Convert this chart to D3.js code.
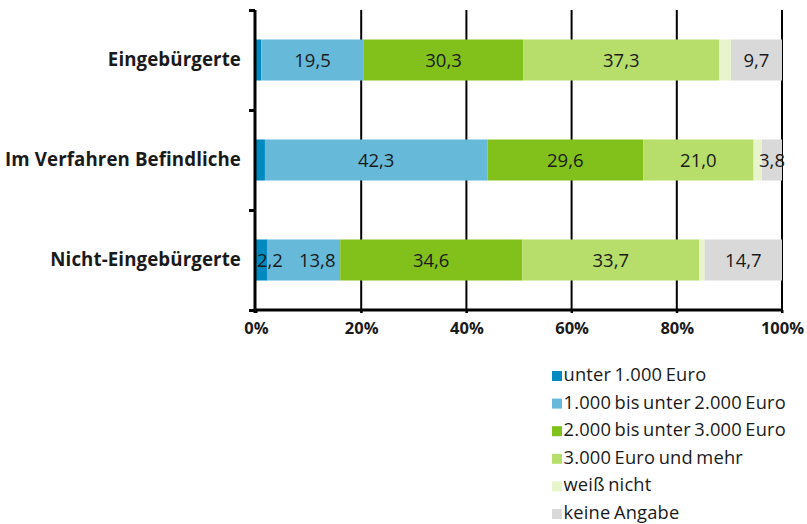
<!DOCTYPE html>
<html><head><meta charset="utf-8">
<script src="https://cdn.jsdelivr.net/npm/d3@7"></script>
<style>
html,body{margin:0;padding:0;background:#fff;}
svg{display:block;}
text{font-family:"Open Sans","Noto Sans",sans-serif;fill:#1a1a1a;}
</style></head>
<body>
<svg id="chart" width="807" height="524"></svg>
<script>
const categories = ["Eingebürgerte", "Im Verfahren Befindliche", "Nicht-Eingebürgerte"];
const seriesNames = ["unter 1.000 Euro", "1.000 bis unter 2.000 Euro", "2.000 bis unter 3.000 Euro", "3.000 Euro und mehr", "weiß nicht", "keine Angabe"];
const seriesColors = ["#008abf", "#66b9d9", "#82c11c", "#b7de6a", "#e7f4cc", "#d9d9d9"];
const unter1000 = [1.0, 1.7, 2.2];
const bis2000 = [19.5, 42.3, 13.8];
const bis3000 = [30.3, 29.6, 34.6];
const ueber3000 = [37.3, 21.0, 33.7];
const weissNicht = [2.2, 1.6, 1.0];
const keineAngabe = [9.7, 3.8, 14.7];
const showLabel = [[false, true, true, true, false, true],
                   [false, true, true, true, false, true],
                   [true, true, true, true, false, true]];
const xTicks = [0, 20, 40, 60, 80, 100];

const seriesValues = [unter1000, bis2000, bis3000, ueber3000, weissNicht, keineAngabe];
const fmt = v => v.toFixed(1).replace(".", ",");

const svg = d3.select("#chart");
const x = d3.scaleLinear().domain([0, 100]).range([256, 782]);
const y = d3.scaleBand().domain(categories).range([10, 310]).paddingInner(0.59).paddingOuter(0.295);

// gridlines
svg.append("g").selectAll("line").data(xTicks.slice(1)).join("line")
  .attr("x1", d => x(d)).attr("x2", d => x(d))
  .attr("y1", 10).attr("y2", 313)
  .attr("stroke", "#000").attr("stroke-width", 2);

// bars
const rows = categories.map((c, i) => {
  let acc = 0;
  return seriesValues.map((s, k) => {
    const seg = {cat: c, row: i, k, v: s[i], x0: acc, x1: acc + s[i]};
    acc += s[i];
    return seg;
  });
}).flat();

svg.append("g").selectAll("rect").data(rows).join("rect")
  .attr("x", d => x(d.x0))
  .attr("width", d => x(d.x1) - x(d.x0))
  .attr("y", d => y(d.cat))
  .attr("height", y.bandwidth())
  .attr("fill", d => seriesColors[d.k]);

// value labels (avoid overlap: push right if overlapping the previous label)
const lastRight = {};
svg.append("g").selectAll("text").data(rows.filter(d => showLabel[d.row][d.k])).join("text")
  .attr("x", d => x((d.x0 + d.x1) / 2))
  .attr("y", d => y(d.cat) + y.bandwidth() / 2)
  .attr("dy", "0.37em")
  .attr("text-anchor", "middle")
  .attr("font-size", 18.5)
  .text(d => fmt(d.v))
  .each(function(d) {
    const w = this.getComputedTextLength();
    let cx = x((d.x0 + d.x1) / 2);
    if (cx - w / 2 < x(0) + 1) cx = x(0) + 1 + w / 2;
    const prev = lastRight[d.row];
    if (prev !== undefined && cx - w / 2 < prev + 4) cx = prev + 16 + w / 2;
    lastRight[d.row] = cx + w / 2;
    d3.select(this).attr("x", cx);
  });

// y axis
const yAxis = d3.axisLeft(d3.scaleLinear().domain([0, 3]).range([10, 310]))
  .tickValues([0, 1, 2, 3]).tickSize(6).tickFormat("");
const ya = svg.append("g").attr("transform", "translate(255,0)").call(yAxis);
ya.select(".domain").attr("stroke", "#000").attr("stroke-width", 3).attr("d", "M0,10V313");
ya.selectAll(".tick line").attr("stroke", "#000").attr("stroke-width", 3);

// category labels
svg.append("g").selectAll("text").data(categories).join("text")
  .attr("x", 241)
  .attr("y", d => y(d) + y.bandwidth() / 2)
  .attr("dy", "0.3em")
  .attr("text-anchor", "end")
  .attr("font-size", 18.7)
  .attr("font-weight", "bold")
  .attr("letter-spacing", 0.1)
  .text(d => d);

// x axis
const xAxis = d3.axisBottom(x).tickValues(xTicks).tickSize(3).tickFormat(d => d + "%");
const xa = svg.append("g").attr("transform", "translate(0,310)").call(xAxis);
xa.select(".domain").attr("stroke", "#000").attr("stroke-width", 3).attr("d", "M254,0H783");
xa.selectAll(".tick line").attr("stroke", "#000").attr("stroke-width", 2);
xa.selectAll(".tick text").attr("font-size", 16.5).attr("font-weight", "bold")
  .attr("font-family", "'Open Sans','Noto Sans',sans-serif").attr("fill", "#1a1a1a")
  .attr("y", 24).attr("dy", 0);

// legend
const lg = svg.append("g").selectAll("g").data(seriesNames).join("g")
  .attr("transform", (d, i) => `translate(552,${381 + i * 27.6})`);
lg.append("rect").attr("x", 0).attr("y", -10).attr("width", 10).attr("height", 10)
  .attr("fill", (d, i) => seriesColors[i]);
lg.append("text").attr("x", 11.5).attr("y", 0)
  .attr("font-size", 18.3).attr("word-spacing", -1.5).attr("letter-spacing", 0.2).text(d => d);
</script>
</body></html>
